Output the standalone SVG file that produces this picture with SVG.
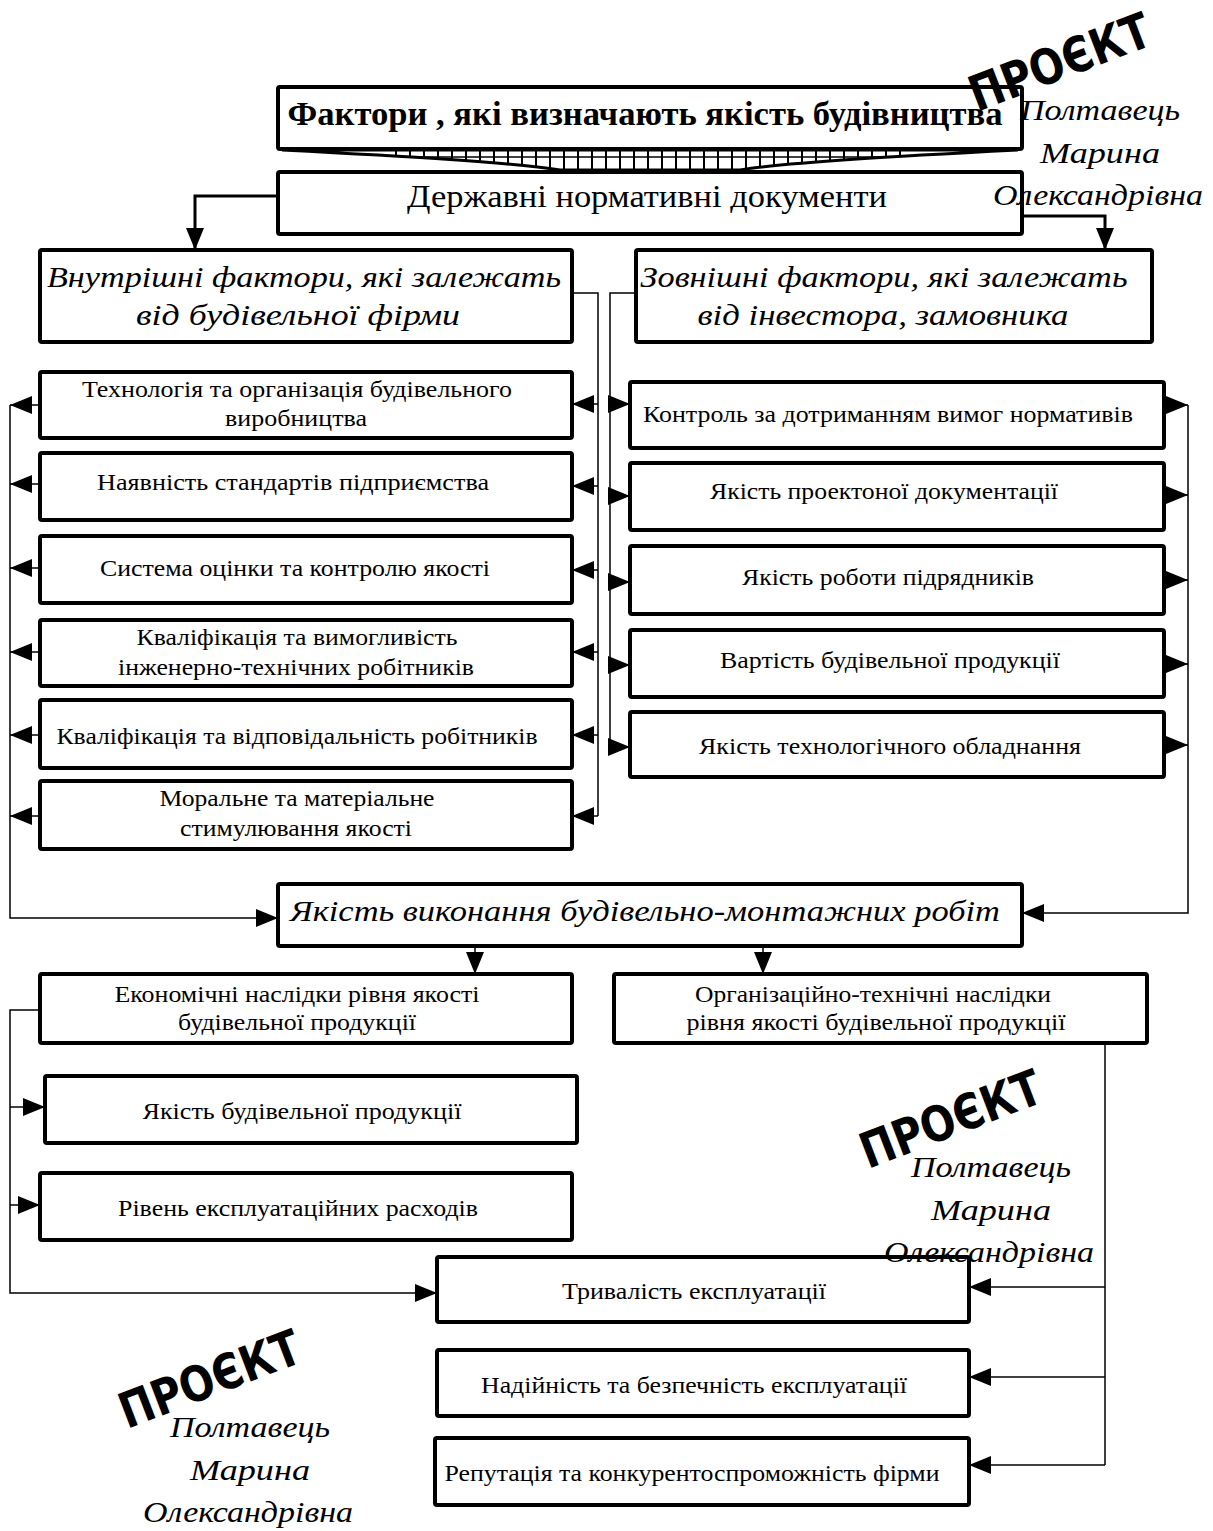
<svg xmlns="http://www.w3.org/2000/svg" width="1213" height="1531" viewBox="0 0 1213 1531">
<style>
.box{fill:#fff;stroke:#000;stroke-width:4;}
.t{font-family:"Liberation Serif",serif;font-size:23px;fill:#000;text-anchor:middle;}
.ti{font-family:"Liberation Serif",serif;font-size:29px;font-style:italic;fill:#000;text-anchor:middle;}
.tb{font-family:"Liberation Serif",serif;font-size:34px;font-weight:bold;fill:#000;text-anchor:middle;}
.th{font-family:"Liberation Serif",serif;font-size:32px;fill:#000;text-anchor:middle;}
.c{fill:none;stroke:#000;stroke-width:1.5;}
.ck{fill:none;stroke:#000;stroke-width:3;}
.wm{font-family:"DejaVu Sans",sans-serif;font-size:49px;font-weight:bold;fill:#000;}
.ws{font-family:"Liberation Serif",serif;font-size:29px;font-style:italic;fill:#000;text-anchor:middle;}
</style>
<defs>
<marker id="ah" markerUnits="userSpaceOnUse" markerWidth="22" markerHeight="18" viewBox="0 0 22 18" refX="22" refY="9" orient="auto">
<path d="M0,0 L22,9 L0,18 z" fill="#000"/>
</marker>
<clipPath id="lad"><path d="M282,150 H1018 C900,156 790,162 740,170 H560 C510,162 400,156 282,150 z"/></clipPath>
<g id="wmark">
<text class="wm" transform="translate(2,2) rotate(-21)" x="0" y="0" textLength="190" lengthAdjust="spacingAndGlyphs">ПРОЄКТ</text>
<text class="ws" x="125" y="10" textLength="160" lengthAdjust="spacingAndGlyphs">Полтавець</text>
<text class="ws" x="125" y="53" textLength="120" lengthAdjust="spacingAndGlyphs">Марина</text>
<text class="ws" x="123" y="95" textLength="210" lengthAdjust="spacingAndGlyphs">Олександрівна</text>
</g>
</defs>
<rect width="1213" height="1531" fill="#fff"/>

<g id="connectors">
<path class="ck" d="M278,196 H195 V250" marker-end="url(#ah)"/>
<path class="ck" d="M1022,216 H1105 V250" marker-end="url(#ah)"/>
<path class="c" d="M572,293 H598 V816"/>
<path class="c" d="M598,404 H572" marker-end="url(#ah)"/>
<path class="c" d="M598,486 H572" marker-end="url(#ah)"/>
<path class="c" d="M598,570 H572" marker-end="url(#ah)"/>
<path class="c" d="M598,652 H572" marker-end="url(#ah)"/>
<path class="c" d="M598,735 H572" marker-end="url(#ah)"/>
<path class="c" d="M598,816 H572" marker-end="url(#ah)"/>
<path class="c" d="M636,293 H610 V752"/>
<path class="c" d="M610,404 H630" marker-end="url(#ah)"/>
<path class="c" d="M610,496 H630" marker-end="url(#ah)"/>
<path class="c" d="M610,582 H630" marker-end="url(#ah)"/>
<path class="c" d="M610,665 H630" marker-end="url(#ah)"/>
<path class="c" d="M610,747 H630" marker-end="url(#ah)"/>
<path class="c" d="M40,405 H10" marker-end="url(#ah)"/>
<path class="c" d="M40,484 H10" marker-end="url(#ah)"/>
<path class="c" d="M40,568 H10" marker-end="url(#ah)"/>
<path class="c" d="M40,652 H10" marker-end="url(#ah)"/>
<path class="c" d="M40,735 H10" marker-end="url(#ah)"/>
<path class="c" d="M40,816 H10" marker-end="url(#ah)"/>
<path class="c" d="M10,405 V918 H278" marker-end="url(#ah)"/>
<path class="c" d="M1164,405 H1188" marker-end="url(#ah)"/>
<path class="c" d="M1164,495 H1188" marker-end="url(#ah)"/>
<path class="c" d="M1164,580 H1188" marker-end="url(#ah)"/>
<path class="c" d="M1164,664 H1188" marker-end="url(#ah)"/>
<path class="c" d="M1164,745 H1188" marker-end="url(#ah)"/>
<path class="c" d="M1188,405 V913 H1022" marker-end="url(#ah)"/>
<path class="c" d="M475,946 V974" marker-end="url(#ah)"/>
<path class="c" d="M763,946 V974" marker-end="url(#ah)"/>
<path class="c" d="M40,1010 H10 V1293 H437" marker-end="url(#ah)"/>
<path class="c" d="M10,1107 H45" marker-end="url(#ah)"/>
<path class="c" d="M10,1205 H40" marker-end="url(#ah)"/>
<path class="c" d="M1105,1043 V1465"/>
<path class="c" d="M1105,1287 H969" marker-end="url(#ah)"/>
<path class="c" d="M1105,1377 H969" marker-end="url(#ah)"/>
<path class="c" d="M1105,1465 H969" marker-end="url(#ah)"/>
</g>

<g id="ladder">
<path d="M282,150 H1018 C900,156 790,162 740,170 H560 C510,162 400,156 282,150 z" fill="#fff" stroke="#000" stroke-width="3"/>
<g clip-path="url(#lad)" stroke="#000" stroke-width="2">
<path d="M396,150V172 M410,150V172 M424,150V172 M438,150V172 M452,150V172 M466,150V172 M480,150V172 M494,150V172 M508,150V172 M522,150V172 M536,150V172 M550,150V172 M564,150V172 M578,150V172 M592,150V172 M606,150V172 M620,150V172 M634,150V172 M648,150V172 M662,150V172 M676,150V172 M690,150V172 M704,150V172 M718,150V172 M732,150V172 M746,150V172 M760,150V172 M774,150V172 M788,150V172 M802,150V172 M816,150V172 M830,150V172 M844,150V172 M858,150V172 M872,150V172 M886,150V172 M900,150V172"/>
<path d="M282,157 H1018" stroke-width="1.5"/>
</g>
</g>

<g id="n-title"><rect class="box" x="278" y="87" width="744" height="62" rx="2"/>
<text class="tb" x="645" y="125" textLength="715" lengthAdjust="spacingAndGlyphs">Фактори , які визначають якість будівництва</text></g>
<g id="n-dnd"><rect class="box" x="278" y="172" width="744" height="62" rx="2"/>
<text class="th" x="647" y="207" textLength="480" lengthAdjust="spacingAndGlyphs">Державні нормативні документи</text></g>
<g id="n-internal"><rect class="box" x="40" y="250" width="532" height="92" rx="2"/>
<text class="ti" x="304" y="287" textLength="514" lengthAdjust="spacingAndGlyphs">Внутрішні фактори, які залежать</text>
<text class="ti" x="298" y="325" textLength="324" lengthAdjust="spacingAndGlyphs">від будівельної фірми</text></g>
<g id="n-external"><rect class="box" x="636" y="250" width="516" height="92" rx="2"/>
<text class="ti" x="884" y="287" textLength="487" lengthAdjust="spacingAndGlyphs">Зовнішні фактори, які залежать</text>
<text class="ti" x="883" y="325" textLength="371" lengthAdjust="spacingAndGlyphs">від інвестора, замовника</text></g>

<g id="n-l1"><rect class="box" x="40" y="372" width="532" height="66" rx="2"/>
<text class="t" x="297" y="397" textLength="430" lengthAdjust="spacingAndGlyphs">Технологія та організація будівельного</text>
<text class="t" x="296" y="426" textLength="142" lengthAdjust="spacingAndGlyphs">виробництва</text></g>
<g id="n-l2"><rect class="box" x="40" y="453" width="532" height="67" rx="2"/>
<text class="t" x="293" y="490" textLength="392" lengthAdjust="spacingAndGlyphs">Наявність стандартів підприємства</text></g>
<g id="n-l3"><rect class="box" x="40" y="536" width="532" height="67" rx="2"/>
<text class="t" x="295" y="576" textLength="390" lengthAdjust="spacingAndGlyphs">Система оцінки та контролю якості</text></g>
<g id="n-l4"><rect class="box" x="40" y="620" width="532" height="66" rx="2"/>
<text class="t" x="297" y="645" textLength="321" lengthAdjust="spacingAndGlyphs">Кваліфікація та вимогливість</text>
<text class="t" x="296" y="675" textLength="356" lengthAdjust="spacingAndGlyphs">інженерно-технічних робітників</text></g>
<g id="n-l5"><rect class="box" x="40" y="700" width="532" height="68" rx="2"/>
<text class="t" x="297" y="744" textLength="481" lengthAdjust="spacingAndGlyphs">Кваліфікація та відповідальність робітників</text></g>
<g id="n-l6"><rect class="box" x="40" y="781" width="532" height="68" rx="2"/>
<text class="t" x="297" y="806" textLength="275" lengthAdjust="spacingAndGlyphs">Моральне та матеріальне</text>
<text class="t" x="296" y="836" textLength="232" lengthAdjust="spacingAndGlyphs">стимулювання якості</text></g>

<g id="n-r1"><rect class="box" x="630" y="382" width="534" height="66" rx="2"/>
<text class="t" x="888" y="422" textLength="490" lengthAdjust="spacingAndGlyphs">Контроль за дотриманням вимог нормативів</text></g>
<g id="n-r2"><rect class="box" x="630" y="463" width="534" height="67" rx="2"/>
<text class="t" x="884" y="499" textLength="348" lengthAdjust="spacingAndGlyphs">Якість проектоної документації</text></g>
<g id="n-r3"><rect class="box" x="630" y="546" width="534" height="68" rx="2"/>
<text class="t" x="888" y="585" textLength="292" lengthAdjust="spacingAndGlyphs">Якість роботи підрядників</text></g>
<g id="n-r4"><rect class="box" x="630" y="630" width="534" height="67" rx="2"/>
<text class="t" x="890" y="668" textLength="340" lengthAdjust="spacingAndGlyphs">Вартість будівельної продукції</text></g>
<g id="n-r5"><rect class="box" x="630" y="712" width="534" height="65" rx="2"/>
<text class="t" x="890" y="754" textLength="382" lengthAdjust="spacingAndGlyphs">Якість технологічного обладнання</text></g>

<g id="n-quality"><rect class="box" x="278" y="884" width="744" height="62" rx="2"/>
<text class="ti" x="645" y="921" textLength="710" lengthAdjust="spacingAndGlyphs">Якість виконання будівельно-монтажних робіт</text></g>

<g id="n-econ"><rect class="box" x="40" y="974" width="532" height="69" rx="2"/>
<text class="t" x="297" y="1002" textLength="365" lengthAdjust="spacingAndGlyphs">Економічні наслідки рівня якості</text>
<text class="t" x="297" y="1030" textLength="238" lengthAdjust="spacingAndGlyphs">будівельної продукції</text></g>
<g id="n-org"><rect class="box" x="614" y="974" width="533" height="69" rx="2"/>
<text class="t" x="873" y="1002" textLength="356" lengthAdjust="spacingAndGlyphs">Організаційно-технічні наслідки</text>
<text class="t" x="876" y="1030" textLength="379" lengthAdjust="spacingAndGlyphs">рівня якості будівельної продукції</text></g>

<g id="n-prod"><rect class="box" x="45" y="1076" width="532" height="67" rx="2"/>
<text class="t" x="302" y="1119" textLength="319" lengthAdjust="spacingAndGlyphs">Якість будівельної продукції</text></g>
<g id="n-costs"><rect class="box" x="40" y="1173" width="532" height="67" rx="2"/>
<text class="t" x="298" y="1216" textLength="360" lengthAdjust="spacingAndGlyphs">Рівень експлуатаційних расходів</text></g>
<g id="n-dur"><rect class="box" x="437" y="1257" width="532" height="65" rx="2"/>
<text class="t" x="694" y="1299" textLength="264" lengthAdjust="spacingAndGlyphs">Тривалість експлуатації</text></g>
<g id="n-rel"><rect class="box" x="437" y="1350" width="532" height="66" rx="2"/>
<text class="t" x="694" y="1393" textLength="426" lengthAdjust="spacingAndGlyphs">Надійність та безпечність експлуатації</text></g>
<g id="n-rep"><rect class="box" x="435" y="1438" width="534" height="67" rx="2"/>
<text class="t" x="692" y="1481" textLength="495" lengthAdjust="spacingAndGlyphs">Репутація та конкурентоспроможність фірми</text></g>

<g id="watermarks">
<use href="#wmark" transform="translate(975,110)"/>
<use href="#wmark" transform="translate(866,1167)"/>
<use href="#wmark" transform="translate(125,1427)"/>
</g>
</svg>
